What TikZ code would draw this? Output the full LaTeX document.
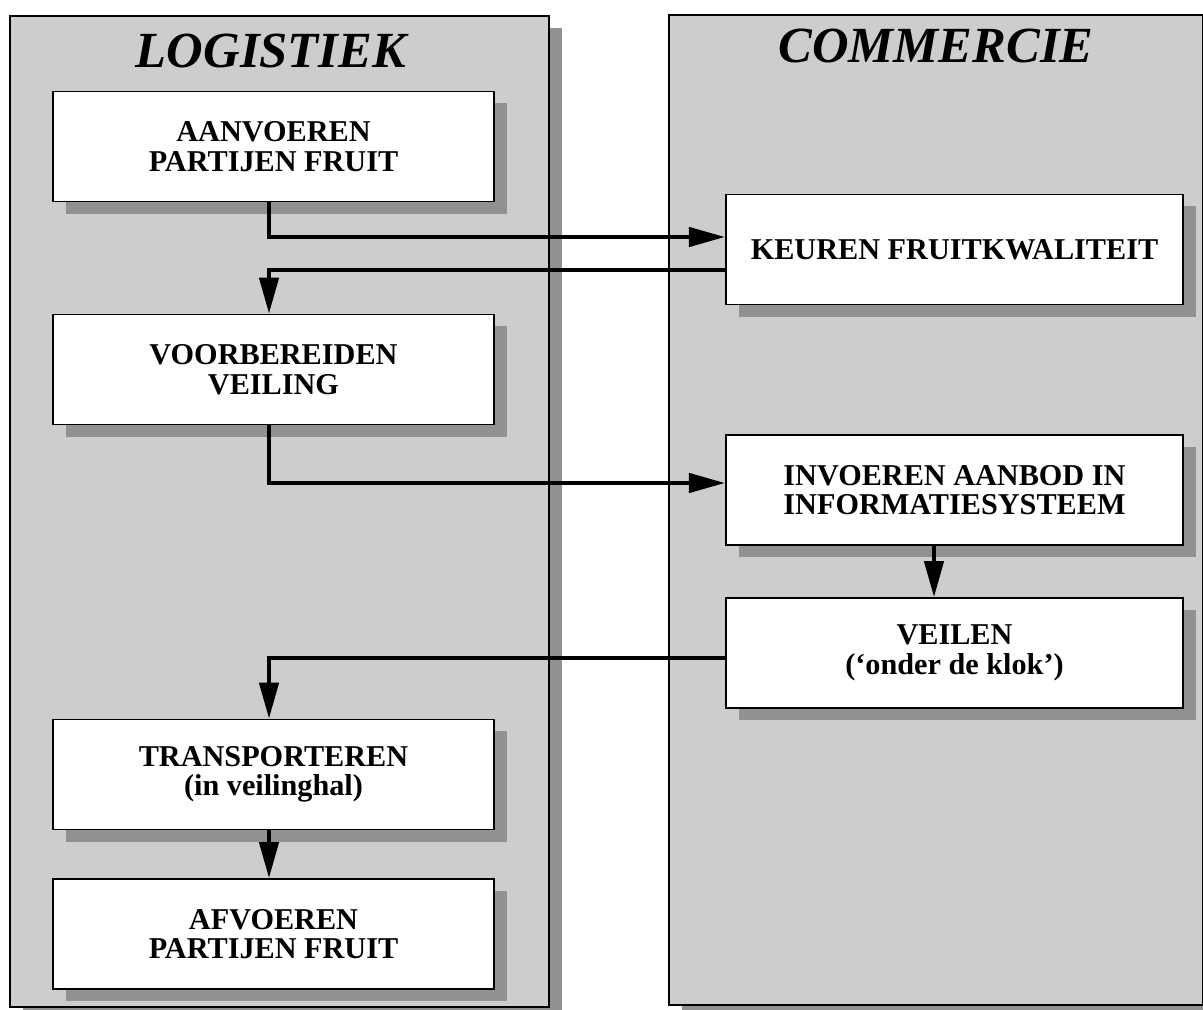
\documentclass[tikz,border=0pt]{standalone}
\usepackage{fontspec}
\setmainfont{Liberation Serif}
\usetikzlibrary{arrows.meta,shadows}
\definecolor{lanegrey}{RGB}{205,205,205}
\definecolor{shadegrey}{RGB}{145,145,145}
\tikzset{
  shade/.style={drop shadow={shadow xshift=0.33cm,shadow yshift=-0.3cm,fill=shadegrey,opacity=1}},
  lane/.style={draw,line width=1.3pt,fill=lanegrey,anchor=north west,inner sep=0pt,shade},
  title/.style={font=\bfseries\itshape\fontsize{36}{40}\selectfont},
  task/.style={draw,line width=1.3pt,fill=white,align=center,inner sep=0pt,
    minimum height=2.75cm,font=\bfseries\fontsize{21.5}{21}\selectfont,shade},
  flow/.style={line width=2.8pt,-{Triangle[length=0.9cm,width=0.48cm]}}
}
\begin{document}
\begin{tikzpicture}[x=0.025cm,y=-0.025cm]
\useasboundingbox (0,0) rectangle (1203,1010);
% banen
\node[lane,minimum width=13.475cm,minimum height=24.775cm] (logistiek) at (9,15) {};
\node[lane,minimum width=13.35cm,minimum height=24.75cm] (commercie) at (668,14) {};
\node[title] (tlog) at (271,51) {LOGISTIEK};
\node[title] (tcom) at (936,46) {COMMERCIE};
% taken
\foreach \n/\y/\t in {A/146.5/{AANVOEREN\\PARTIJEN FRUIT},V/369.5/{VOORBEREIDEN\\VEILING},
  T/774.5/{TRANSPORTEREN\\(in veilinghal)},AF/934/{AFVOEREN\\PARTIJEN FRUIT}}
  \node[task,minimum width=11.03cm] (\n) at (273.5,\y) {\t};
\foreach \n/\y/\t in {K/249.5/{KEUREN FRUITKWALITEIT},I/490/{INVOEREN AANBOD IN\\INFORMATIESYSTEEM},
  VE/653/{VEILEN\\(‘onder de klok’)}}
  \node[task,minimum width=11.43cm] (\n) at (954.5,\y) {\t};
% stromen
\coordinate (c1) at (269,237);
\coordinate (c2) at (269,270);
\coordinate (c3) at (269,483);
\coordinate (c4) at (934,0);
\coordinate (c5) at (269,658);
\draw[flow] (A.south -| c1) |- (K.west |- c1);
\draw[flow] (K.west |- c2) -| (V.north -| c2);
\draw[flow] (V.south -| c3) |- (I.west |- c3);
\draw[flow] (I.south -| c4) -- (VE.north -| c4);
\draw[flow] (VE.west |- c5) -| (T.north -| c5);
\draw[flow] (T.south -| c3) -- (AF.north -| c3);
\end{tikzpicture}
\end{document}
